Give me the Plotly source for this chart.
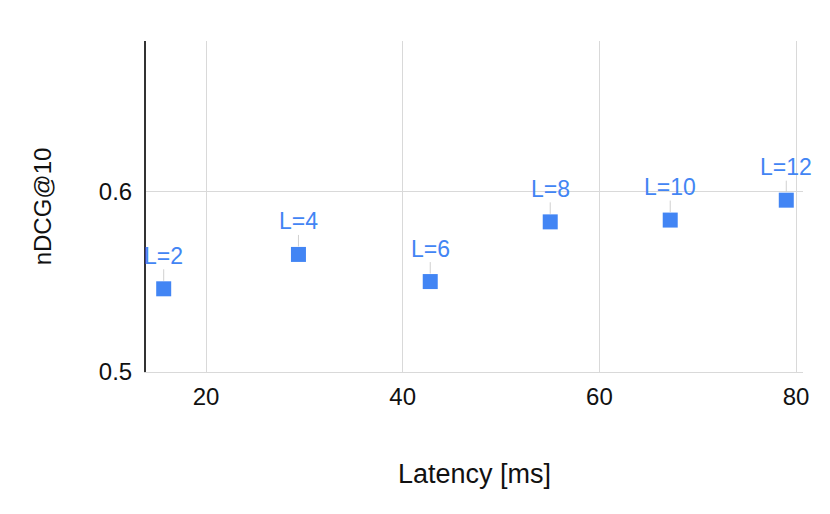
import plotly.graph_objects as go

labels = ["L=2", "L=4", "L=6", "L=8", "L=10", "L=12"]
latency_ms = [15.7, 29.4, 42.8, 55.0, 67.2, 79.0]
ndcg10 = [0.546, 0.565, 0.550, 0.583, 0.584, 0.595]

blue = "#4285F4"
grid = "#d9d9d9"
font_family = "Liberation Sans, Arial, sans-serif"
text_col = "#111111"

fig = go.Figure()
fig.add_trace(go.Scatter(
    x=latency_ms, y=ndcg10, mode="markers",
    marker=dict(symbol="square", size=15, color=blue),
    showlegend=False, hoverinfo="x+y",
))

for lab, xv, yv in zip(labels, latency_ms, ndcg10):
    fig.add_annotation(
        x=xv, y=yv, text=lab, showarrow=True, arrowhead=0,
        arrowwidth=1, arrowcolor="#d0d0d0", ax=0, ay=-33, standoff=8,
        font=dict(family=font_family, size=23, color=blue),
        borderpad=0,
    )

fig.update_layout(
    width=822, height=506,
    margin=dict(l=138, r=27, t=33, b=142),
    paper_bgcolor="white", plot_bgcolor="white",
    font=dict(family=font_family, size=24, color=text_col),
    xaxis=dict(
        range=[13.9, 80.7], tickvals=[20, 40, 60, 80],
        showgrid=True, gridcolor=grid, gridwidth=1,
        zeroline=False, showline=True, linecolor=grid, linewidth=1,
        ticks="", ticklabelstandoff=3,
        title=dict(text="Latency [ms]", standoff=55,
                   font=dict(family=font_family, size=27, color=text_col)),
        tickfont=dict(family=font_family, size=24, color=text_col),
    ),
    yaxis=dict(
        range=[0.5, 0.683], tickvals=[0.5, 0.6], ticktext=["0.5", "0.6"],
        showgrid=True, gridcolor=grid, gridwidth=1,
        zeroline=False, showline=True, linecolor="#333333", linewidth=2,
        ticks="", ticklabelstandoff=7,
        title=dict(text="nDCG@10", standoff=40,
                   font=dict(family=font_family, size=24, color=text_col)),
        tickfont=dict(family=font_family, size=24, color=text_col),
    ),
)

fig.write_html("out.html")
